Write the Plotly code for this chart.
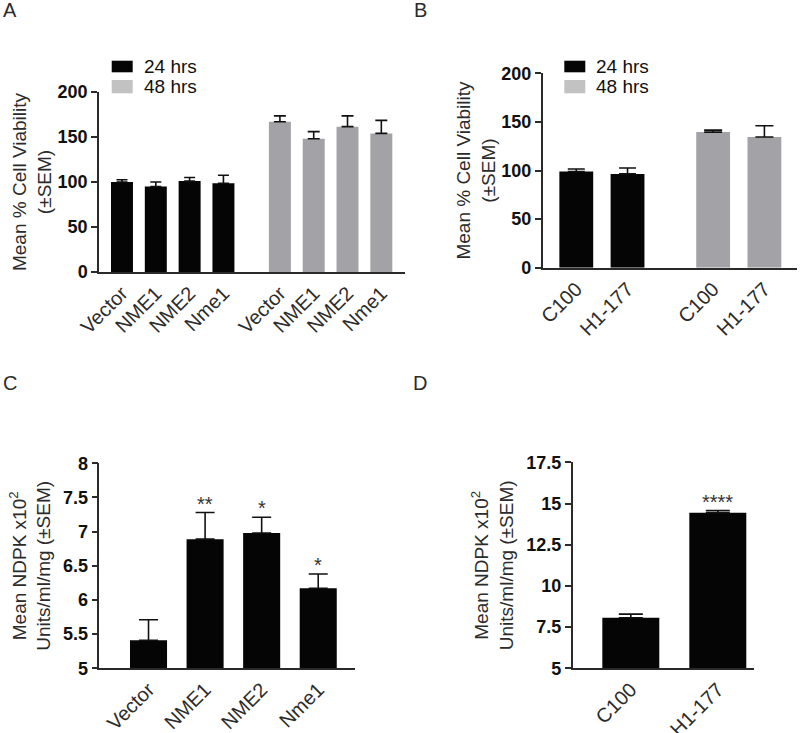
import plotly.graph_objects as go

# ---------------- data ----------------
series_names = ["24 hrs", "48 hrs"]

# Panel A: cell viability, 4 constructs at 24 and 48 hrs
a_categories = ["Vector", "NME1", "NME2", "Nme1"]
a_24_values = [100, 95, 101, 98.5]
a_24_errors = [2.5, 5, 4, 9]
a_48_values = [167, 148, 161.5, 154]
a_48_errors = [6.5, 8, 12, 14.5]

# Panel B: cell viability, 2 lines at 24 and 48 hrs
b_categories = ["C100", "H1-177"]
b_24_values = [99, 96.5]
b_24_errors = [2.5, 6]
b_48_values = [139.5, 134.5]
b_48_errors = [2, 11.5]

# Panel C: NDPK activity
c_categories = ["Vector", "NME1", "NME2", "Nme1"]
c_values = [5.41, 6.89, 6.98, 6.17]
c_errors = [0.30, 0.39, 0.23, 0.21]
c_stars = ["", "**", "*", "*"]

# Panel D: NDPK activity
d_categories = ["C100", "H1-177"]
d_values = [8.07, 14.44]
d_errors = [0.22, 0.13]
d_stars = ["", "****"]

y_ticks_ab = [0, 50, 100, 150, 200]
y_ticks_c = [5, 5.5, 6, 6.5, 7, 7.5, 8]
y_ticks_d = [5, 7.5, 10, 12.5, 15, 17.5]

panel_letters = ["A", "B", "C", "D"]

# ---------------- style ----------------
W, H = 800, 733
FONT = "Liberation Sans, Arial, Helvetica, sans-serif"
BLACK = "#050505"
GRAY_BAR = "#a3a3a7"
GRAY_LEG = "#c2c2c2"
AXIS = "#2a2a2a"
TXT = "#2b2b2b"
GROUP_GAP = 1.67


def px(x):
    return x / W


def py(y):
    return 1 - y / H


fig = go.Figure()


def err(arr, w):
    return dict(type="data", array=arr, arrayminus=[0] * len(arr), symmetric=False, visible=True,
                color="#111111", thickness=1.6, width=w)


# Panel A
a_pos24 = [i for i in range(len(a_categories))]
a_pos48 = [i + len(a_categories) - 1 + GROUP_GAP for i in range(len(a_categories))]
fig.add_trace(go.Bar(x=a_pos24, y=a_24_values, error_y=err(a_24_errors, 5.5), marker_color=BLACK,
                     marker_line_width=0, width=0.65, name=series_names[0], showlegend=False,
                     xaxis="x", yaxis="y"))
fig.add_trace(go.Bar(x=a_pos48, y=a_48_values, error_y=err(a_48_errors, 6), marker_color=GRAY_BAR,
                     marker_line_width=0, width=0.65, name=series_names[1], showlegend=False,
                     xaxis="x", yaxis="y"))

# Panel B
b_pos24 = [i for i in range(len(b_categories))]
b_pos48 = [i + len(b_categories) - 1 + GROUP_GAP for i in range(len(b_categories))]
fig.add_trace(go.Bar(x=b_pos24, y=b_24_values, error_y=err(b_24_errors, 8.5), marker_color=BLACK,
                     marker_line_width=0, width=0.66, name=series_names[0], showlegend=False,
                     xaxis="x2", yaxis="y2"))
fig.add_trace(go.Bar(x=b_pos48, y=b_48_values, error_y=err(b_48_errors, 9), marker_color=GRAY_BAR,
                     marker_line_width=0, width=0.66, name=series_names[1], showlegend=False,
                     xaxis="x2", yaxis="y2"))

# Panel C
fig.add_trace(go.Bar(x=c_categories, y=c_values, error_y=err(c_errors, 9.5), marker_color=BLACK,
                     marker_line_width=0, width=0.655, showlegend=False, xaxis="x3", yaxis="y3"))
# Panel D
fig.add_trace(go.Bar(x=d_categories, y=d_values, error_y=err(d_errors, 12), marker_color=BLACK,
                     marker_line_width=0, width=0.655, showlegend=False, xaxis="x4", yaxis="y4"))

common_x = dict(showline=True, linecolor=AXIS, linewidth=1.5, ticks="", showgrid=False, zeroline=False,
                automargin=False, tickangle=-45, tickfont=dict(family=FONT, size=20, color=TXT))
common_y = dict(showline=True, linecolor=AXIS, linewidth=1.5, ticks="outside", ticklen=6, tickwidth=1.5,
                tickcolor=AXIS, showgrid=False, zeroline=False, automargin=False,
                tickfont=dict(family=FONT, size=18, color="#111111", weight="bold"))
title_font = dict(family=FONT, size=19, color=TXT)

fig.update_layout(
    template="none",
    width=W, height=H, margin=dict(l=0, r=0, t=0, b=0, pad=0),
    paper_bgcolor="white", plot_bgcolor="white", barmode="overlay", showlegend=False,
    font=dict(family=FONT, color=TXT),
    xaxis=dict(common_x, domain=[px(99), px(405)], anchor="y", range=[-0.68, 8.37],
               tickvals=a_pos24 + a_pos48, ticktext=a_categories + a_categories),
    yaxis=dict(common_y, domain=[py(272), py(92)], anchor="x", range=[0, 200], tickvals=y_ticks_ab,
               title=dict(text="Mean % Cell Viability<br>(±SEM)", standoff=1, font=title_font)),
    xaxis2=dict(common_x, domain=[px(542.7), px(796.7)], anchor="y2", range=[-0.655, 4.3],
                tickvals=b_pos24 + b_pos48, ticktext=b_categories + b_categories),
    yaxis2=dict(common_y, domain=[py(267.7), py(73.3)], anchor="x2", range=[0, 200], tickvals=y_ticks_ab,
                title=dict(text="Mean % Cell Viability<br>(±SEM)", standoff=1, font=title_font)),
    xaxis3=dict(common_x, domain=[px(99.3), px(355)], anchor="y3", range=[-0.87, 3.65]),
    yaxis3=dict(common_y, domain=[py(668.3), py(463.3)], anchor="x3", range=[5, 8], tickvals=y_ticks_c,
                ticktext=[f"{v:g}" for v in y_ticks_c],
                title=dict(text="Mean NDPK x10<sup>2</sup><br>Units/ml/mg (±SEM)", standoff=7, font=title_font)),
    xaxis4=dict(common_x, domain=[px(572.7), px(754)], anchor="y4", range=[-0.668, 1.416]),
    yaxis4=dict(common_y, domain=[py(668.3), py(462.3)], anchor="x4", range=[5, 17.5], tickvals=y_ticks_d,
                ticktext=[f"{v:g}" for v in y_ticks_d],
                title=dict(text="Mean NDPK x10<sup>2</sup><br>Units/ml/mg (±SEM)", standoff=8, font=title_font)),
)

# legends (drawn as swatches + labels)
shapes = []
annotations = []
for lx, tx in [(111.7, 141.5), (564.3, 593.5)]:
    for (y0, y1), col, name in [((60.7, 72.3), BLACK, series_names[0]), ((80, 93.3), GRAY_LEG, series_names[1])]:
        shapes.append(dict(type="rect", xref="paper", yref="paper", x0=px(lx), x1=px(lx + 21),
                           y0=py(y1), y1=py(y0), fillcolor=col, line_width=0, layer="above"))
        annotations.append(dict(text=name, xref="paper", yref="paper", x=px(tx), y=py((y0 + y1) / 2),
                                xanchor="left", yanchor="middle", showarrow=False,
                                font=dict(family=FONT, size=19, color="#111111")))

# significance stars
for cat, v, e, s in zip(c_categories, c_values, c_errors, c_stars):
    if s:
        annotations.append(dict(text=s, x=cat, y=v + e, xref="x3", yref="y3", yanchor="bottom",
                                showarrow=False, yshift=-4, font=dict(family=FONT, size=20, color="#333333")))
for cat, v, e, s in zip(d_categories, d_values, d_errors, d_stars):
    if s:
        annotations.append(dict(text=s, x=cat, y=v + e, xref="x4", yref="y4", yanchor="bottom",
                                showarrow=False, yshift=-4, font=dict(family=FONT, size=20, color="#333333")))

# panel letters
for letter, (lx, ly) in zip(panel_letters, [(1, 9.5), (412, 9.5), (1, 382.5), (411, 382.5)]):
    annotations.append(dict(text=letter, xref="paper", yref="paper", x=px(lx), y=py(ly), xanchor="left",
                            yanchor="middle", showarrow=False, font=dict(family=FONT, size=20, color=TXT)))

fig.update_layout(shapes=shapes, annotations=annotations)
fig.write_html("out.html", config={"displayModeBar": False},
               post_script="document.body.style.margin='0';document.body.style.overflow='hidden';")
